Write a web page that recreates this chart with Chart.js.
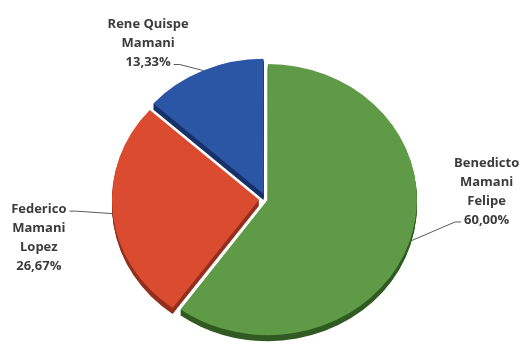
<!DOCTYPE html>
<html lang="es">
<head>
<meta charset="utf-8">
<title>Participación por integrante</title>
<script src="https://cdn.jsdelivr.net/npm/chart.js@4.4.1/dist/chart.umd.min.js"></script>
<style>
  html, body { margin: 0; padding: 0; background: #fff; overflow: hidden; }
  #wrap { width: 521px; height: 347px; }
</style>
</head>
<body>
<div id="wrap"><canvas id="pieChart" width="521" height="347"></canvas></div>
<script>
// Participación de cada integrante (%)
const nombres = [
    ['Benedicto', 'Mamani', 'Felipe'],
    ['Federico', 'Mamani', 'Lopez'],
    ['Rene Quispe', 'Mamani']
];
const porcentajes = [60.00, 26.67, 13.33];

// estilos de las porciones
const colores = ['#5f9a47', '#db4b2f', '#2b56a6'];
const coloresLado = ['#2f5b22', '#93301c', '#16306a'];
const separacion = [2, 7, 6];      // px que se aparta cada porción
const ACHATADO = 0.91;             // aplastado vertical para dar inclinación
const PROFUNDIDAD = 6;             // grosor del costado
const INTERLINEA = 19;

// ubicación de cada etiqueta respecto al borde de su porción
const posEtiqueta = [
    { dx: 77, dy: -50, linea: 3, lado: 'izq' },
    { dx: -74, dy: 24, linea: 0, lado: 'der' },
    { dx: -55, dy: -27, linea: 2, lado: 'der' }
];

function formatoPct(v) {
    return v.toFixed(2).replace('.', ',') + '%';
}

// Chart.js v4 traslada cada arco offset/4 sobre su bisectriz
function corrimiento(arc) {
    return (arc.options.offset || 0) / 4;
}

function radioDibujado(arc) {
    const fix = 1 - Math.sin(Math.min(Math.PI, arc.circumference || 0));
    return arc.outerRadius + corrimiento(arc) * fix;
}

function aplanar(ctx, cx, cy) {
    ctx.translate(cx, cy);
    ctx.scale(1, ACHATADO);
    ctx.translate(-cx, -cy);
}

const pieInclinado = {
    id: 'pieInclinado',
    beforeDatasetDraw(chart, args) {
        const ctx = chart.ctx;
        const arcs = chart.getDatasetMeta(args.index).data;
        const cx = arcs[0].x, cy = arcs[0].y;

        // costado oscuro debajo de cada porción
        for (let d = 1; d <= PROFUNDIDAD; d++) {
            arcs.forEach((arc, i) => {
                const s = corrimiento(arc);
                const mid = (arc.startAngle + arc.endAngle) / 2;
                const ox = arc.x + Math.cos(mid) * s;
                const oy = arc.y + Math.sin(mid) * s;
                ctx.save();
                ctx.translate(0, d);
                aplanar(ctx, cx, cy);
                ctx.fillStyle = coloresLado[i];
                ctx.beginPath();
                ctx.moveTo(ox, oy);
                ctx.arc(ox, oy, radioDibujado(arc), arc.startAngle, arc.endAngle);
                ctx.closePath();
                ctx.fill();
                ctx.restore();
            });
        }

        ctx.save();
        aplanar(ctx, cx, cy);
    },
    afterDatasetDraw(chart) {
        chart.ctx.restore();
    }
};

const etiquetas = {
    id: 'etiquetas',
    afterDraw(chart) {
        const ctx = chart.ctx;
        const arcs = chart.getDatasetMeta(0).data;
        ctx.save();
        ctx.font = 'bold 13px "Open Sans"';
        ctx.textAlign = 'center';
        ctx.textBaseline = 'middle';

        arcs.forEach((arc, i) => {
            const pos = posEtiqueta[i];
            const mid = (arc.startAngle + arc.endAngle) / 2;
            const r = corrimiento(arc) + radioDibujado(arc);
            const ax = arc.x + Math.cos(mid) * r;
            const ay = arc.y + Math.sin(mid) * r * ACHATADO;

            const lineas = nombres[i].concat(formatoPct(porcentajes[i]));
            const tx = ax + pos.dx;
            const ty = ay + pos.dy - (lineas.length - 1) * INTERLINEA / 2;

            ctx.fillStyle = '#3c3c3c';
            lineas.forEach((t, k) => ctx.fillText(t, tx, ty + k * INTERLINEA));

            // línea guía hasta la porción
            const w = ctx.measureText(lineas[pos.linea]).width;
            const ly = ty + pos.linea * INTERLINEA + 2;
            const ex = pos.lado === 'der' ? tx + w / 2 + 3 : tx - w / 2 - 3;
            const codo = pos.lado === 'der' ? ex + 6 : ex - 6;
            ctx.strokeStyle = '#5a5a5a';
            ctx.lineWidth = 1;
            ctx.beginPath();
            ctx.moveTo(ex, ly);
            ctx.lineTo(codo, ly);
            ctx.lineTo(ax, ay);
            ctx.stroke();
        });
        ctx.restore();
    }
};

new Chart(document.getElementById('pieChart'), {
    type: 'pie',
    data: {
        labels: nombres,
        datasets: [{
            data: porcentajes,
            backgroundColor: colores,
            borderWidth: 0,
            offset: separacion.map(s => s * 4),
            radius: 147,
            clip: false
        }]
    },
    options: {
        responsive: false,
        animation: false,
        layout: { padding: { left: 11, right: 0, top: 51, bottom: 0 } },
        plugins: {
            legend: { display: false },
            tooltip: { enabled: false }
        }
    },
    plugins: [pieInclinado, etiquetas]
});
</script>
</body>
</html>
